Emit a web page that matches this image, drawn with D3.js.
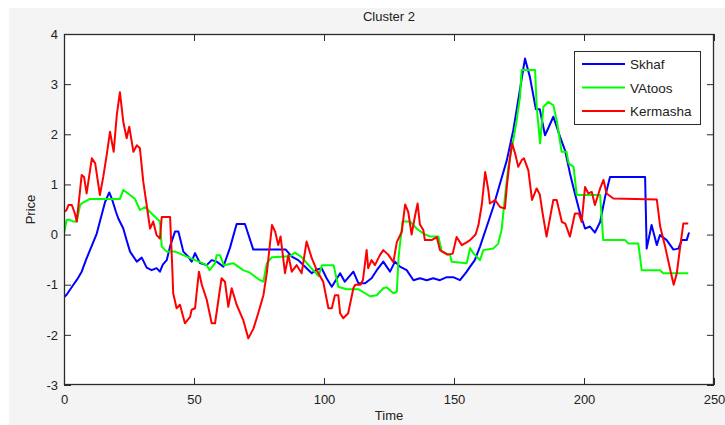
<!DOCTYPE html>
<html lang="en">
<head>
<meta charset="UTF-8" />
<title>Cluster 2</title>
<style>
    body, html {
        margin: 0;
        padding: 0;
        overflow: hidden;
        background: #ffffff;
    }
    svg {
        display: block;
        font-family: "Liberation Sans", Arial, sans-serif;
    }
</style>
</head>
<body>
<svg width="725" height="425"></svg>
<script src="https://d3js.org/d3.v7.min.js"></script>
<script>
    // series values, [time, price]
    const skhaf = [
        [0,-1.25],[1,-1.2],[3.6,-1.0],[5,-0.9],[6.8,-0.74],[8.5,-0.5],[10,-0.31],[12.6,0.02],[13.5,0.2],
        [15.8,0.65],[17.4,0.84],[18.5,0.7],[20,0.45],[20.9,0.32],[22.8,0.12],[24,-0.1],[25.4,-0.34],
        [28,-0.54],[29.9,-0.46],[31.8,-0.66],[33.7,-0.71],[35.6,-0.67],[36.9,-0.74],[38,-0.6],[39.5,-0.51],
        [41,-0.2],[42.7,0.06],[44,0.06],[45.9,-0.34],[47.8,-0.44],[49.1,-0.54],[50.4,-0.37],[52.3,-0.57],
        [54.9,-0.61],[56.8,-0.51],[58.7,-0.54],[61.3,-0.64],[63.8,-0.27],[66.4,0.21],[69.6,0.21],[72.8,-0.3],
        [85.3,-0.3],[87.6,-0.44],[90.1,-0.51],[93.3,-0.67],[95.3,-0.77],[97,-0.7],[99.1,-0.67],[101,-0.87],
        [103,-1.04],[106.2,-0.77],[108,-0.94],[111.3,-0.74],[113.2,-0.97],[115.8,-0.97],[118.3,-0.87],
        [120.3,-0.71],[122.8,-0.54],[125.4,-0.74],[127.3,-0.54],[129.2,-0.64],[131.8,-0.71],[134.4,-0.91],
        [136.9,-0.87],[139.5,-0.91],[142,-0.87],[144.6,-0.91],[147.2,-0.85],[149.7,-0.85],[152.3,-0.91],
        [154.9,-0.74],[156.2,-0.64],[158,-0.51],[160,-0.24],[162.6,0.16],[165.1,0.55],[167.7,1.02],
        [170.3,1.48],[172.8,2.08],[174.7,2.68],[177.3,3.51],[179.2,3.14],[181.5,2.5],[183,2.5],[185,1.98],
        [186.5,2.15],[188.2,2.35],[190.8,1.95],[192.7,1.68],[194.6,1.22],[196.5,0.82],[198.5,0.42],
        [200.4,0.12],[202.3,0.16],[204.2,0.04],[206.2,0.25],[208.1,0.75],[210,1.15],[223.5,1.15],
        [224.1,-0.28],[226,0.19],[228,-0.21],[229.2,-0.01],[231.8,-0.11],[234.4,-0.3],[236.3,-0.28],
        [237.6,-0.11],[239.5,-0.11],[240.4,0.04]
    ];

    const vatoos = [
        [0,0.02],[1,0.29],[2,0.3],[3.6,0.26],[4.9,0.26],[6.2,0.59],[6.8,0.62],[10,0.71],[21.5,0.71],
        [22.8,0.89],[25.4,0.79],[27.3,0.71],[29.2,0.49],[31.2,0.55],[33.7,0.42],[36.9,0.26],[37.6,-0.24],
        [39.5,-0.34],[42.7,-0.34],[45.9,-0.41],[48.5,-0.47],[52.3,-0.55],[54.9,-0.61],[56,-0.71],[58.1,-0.57],
        [58.7,-0.41],[60,-0.41],[61.5,-0.61],[65.1,-0.57],[68.9,-0.71],[71.5,-0.76],[75.4,-0.91],[76.7,-0.94],
        [78,-0.57],[80,-0.45],[83.7,-0.44],[87,-0.43],[88.8,-0.36],[91.4,-0.45],[94.6,-0.64],[97.9,-0.83],
        [99.2,-0.61],[103.7,-0.61],[105.5,-1.04],[108.7,-1.09],[113.2,-1.09],[117.7,-1.23],[120.3,-1.21],
        [122.8,-1.07],[124.1,-1.05],[126.7,-1.17],[128,-1.14],[128.7,-0.44],[130.2,0.26],[133.1,0.26],
        [135.6,0.12],[138.3,0.02],[140.8,-0.04],[144,-0.04],[145.3,-0.34],[148.5,-0.41],[149.1,-0.54],
        [154.9,-0.57],[156.2,-0.27],[157.4,-0.37],[160,-0.51],[161.3,-0.31],[165.1,-0.28],[167,-0.18],
        [168.3,0.09],[169.6,0.75],[170.9,1.35],[172.8,1.88],[174.1,2.28],[175.4,2.75],[176,3.28],[181.2,3.28],
        [181.8,2.55],[183.1,1.82],[184.4,2.55],[186.3,2.65],[188.2,2.58],[189.5,2.28],[191.4,1.65],[193.3,1.65],
        [194.1,1.42],[196,1.35],[197.2,0.79],[206.2,0.79],[207.4,-0.11],[215.8,-0.11],[217.1,-0.18],
        [220.9,-0.18],[222.2,-0.71],[229.2,-0.71],[230.5,-0.77],[240.1,-0.77]
    ];

    const kermasha = [
        [0,0.45],[1,0.49],[1.7,0.59],[3,0.59],[4.2,0.42],[4.9,0.26],[6.8,1.19],[7.7,1.15],[8.7,0.82],
        [10.7,1.52],[12,1.42],[13.8,0.79],[15.1,1.15],[16.4,1.58],[17.7,2.05],[19.1,1.65],[20.3,2.38],
        [21.5,2.84],[22.8,2.25],[24.1,1.92],[25.1,2.15],[26.7,1.65],[28,1.78],[29.2,1.72],[30.5,1.05],
        [31.8,0.59],[33.1,0.12],[34.3,0.26],[35.6,-0.01],[36.9,-0.08],[37.6,0.35],[40.8,0.35],[41.6,-0.6],
        [42,-1.17],[43.3,-1.47],[44.6,-1.4],[46.5,-1.77],[48.5,-1.64],[49.1,-1.5],[50.4,-1.47],[51,-1.17],
        [51.9,-0.74],[53,-1.0],[54.9,-1.3],[56.8,-1.77],[58.1,-1.77],[59.4,-1.3],[60.6,-0.87],[61.9,-0.94],
        [63.2,-1.44],[64.5,-1.07],[66.4,-1.4],[68.9,-1.7],[70.9,-2.07],[72.9,-1.87],[74.7,-1.57],[76.7,-1.21],
        [78,-0.77],[80,0.19],[81.2,0.06],[82.4,-0.21],[83.3,-0.04],[85,-0.77],[86.3,-0.41],[87.6,-0.74],
        [89.5,-0.61],[91.4,-0.77],[93.3,-0.14],[95.3,-0.47],[97.2,-0.71],[99.7,-0.94],[101.7,-1.47],
        [103,-1.47],[104.2,-1.21],[105.5,-1.21],[106.2,-1.57],[107.4,-1.67],[109.3,-1.57],[111.3,-1.07],
        [112,-1.0],[114,-1.0],[115,-0.9],[116.4,-0.31],[117,-0.67],[118.3,-0.51],[119.6,-0.61],[121.5,-0.41],
        [122.8,-0.31],[124.7,-0.4],[126.7,-0.55],[128,-0.15],[129.9,0.05],[131.2,0.6],[132.4,0.45],[133.7,0],
        [135,0.37],[136,0.62],[136.9,0.2],[138.2,0.09],[138.8,-0.11],[141.4,-0.11],[143.4,-0.05],[144.6,-0.31],
        [147.5,-0.4],[149.5,-0.38],[151,-0.05],[153,-0.21],[155,-0.15],[156.2,-0.11],[158.3,0],[159.4,0.19],
        [160.7,0.6],[162,1.25],[163.2,0.89],[163.8,0.62],[165.8,0.69],[167.7,0.55],[169.6,0.52],[170.3,0.95],
        [171.5,1.52],[172.3,1.82],[173.5,1.62],[174.7,1.35],[176,1.48],[176.9,1.52],[178.6,1.28],[180,0.69],
        [181.8,0.92],[183,0.8],[184,0.45],[185.6,-0.04],[188.2,0.69],[189.5,0.69],[191.5,0.25],[192.8,0.22],
        [194.6,-0.04],[196.5,0.42],[198,0.42],[199.1,0.25],[200.4,0.95],[201.7,0.82],[203,0.85],[204.2,0.59],
        [206.2,0.92],[207.5,1.09],[208.7,0.82],[211.3,0.72],[228,0.7],[229.3,0.16],[231.2,-0.24],
        [233.2,-0.71],[234.5,-1.0],[235.7,-0.77],[237,-0.24],[238.2,0.22],[240.1,0.22]
    ];

    const seriesNames = ["Skhaf", "VAtoos", "Kermasha"];
    const seriesColors = ["#0000ff", "#00ff00", "#ff0000"];
    const xTicks = [0, 50, 100, 150, 200, 250];
    const yTicks = [-3, -2, -1, 0, 1, 2, 3, 4];

    const W = 725, H = 425;
    const plot = { left: 64, top: 34, right: 714, bottom: 385 };

    const svg = d3.select("svg");

    // figure background (grey with thin white border top/left like the screenshot)
    svg.append("rect").attr("width", W).attr("height", H).attr("fill", "#ffffff");
    svg.append("rect").attr("x", 9).attr("y", 8).attr("width", W - 9).attr("height", H - 8).attr("fill", "#f4f4f4");

    const x = d3.scaleLinear().domain([0, 250]).range([plot.left, plot.right]);
    const y = d3.scaleLinear().domain([-3, 4]).range([plot.bottom, plot.top]);

    svg.append("rect")
        .attr("x", plot.left).attr("y", plot.top)
        .attr("width", plot.right - plot.left).attr("height", plot.bottom - plot.top)
        .attr("fill", "#ffffff");

    svg.append("clipPath").attr("id", "clip")
        .append("rect")
        .attr("x", plot.left).attr("y", plot.top)
        .attr("width", plot.right - plot.left).attr("height", plot.bottom - plot.top);

    const line = d3.line().x(d => x(d[0])).y(d => y(d[1]));

    const lines = svg.append("g").attr("clip-path", "url(#clip)");
    [skhaf, vatoos, kermasha].forEach((s, i) => {
        lines.append("path")
            .datum(s)
            .attr("fill", "none")
            .attr("stroke", seriesColors[i])
            .attr("stroke-width", 2)
            .attr("stroke-linejoin", "round")
            .attr("d", line);
    });

    // axes, MATLAB style: ticks pointing in, on all four sides
    const tickLen = 7;
    const axisColor = "#2b2b2b";
    const plain = d => String(d);

    svg.append("g")
        .attr("transform", `translate(0,${plot.bottom})`)
        .call(d3.axisBottom(x).tickValues(xTicks).tickFormat(plain).tickSizeInner(-tickLen).tickSizeOuter(0).tickPadding(10))
        .call(g => g.select(".domain").remove());
    svg.append("g")
        .attr("transform", `translate(0,${plot.top})`)
        .call(d3.axisTop(x).tickValues(xTicks).tickSizeInner(-tickLen).tickSizeOuter(0).tickFormat(""))
        .call(g => g.select(".domain").remove());
    svg.append("g")
        .attr("transform", `translate(${plot.left},0)`)
        .call(d3.axisLeft(y).tickValues(yTicks).tickFormat(plain).tickSizeInner(-tickLen).tickSizeOuter(0).tickPadding(6))
        .call(g => g.select(".domain").remove());
    svg.append("g")
        .attr("transform", `translate(${plot.right},0)`)
        .call(d3.axisRight(y).tickValues(yTicks).tickSizeInner(-tickLen).tickSizeOuter(0).tickFormat(""))
        .call(g => g.select(".domain").remove());

    svg.selectAll(".tick line").attr("stroke", axisColor);
    svg.selectAll(".tick text")
        .attr("font-family", "Liberation Sans, Arial, sans-serif")
        .attr("font-size", 13)
        .attr("fill", "#222");

    svg.append("rect")
        .attr("x", plot.left + 0.5).attr("y", plot.top + 0.5)
        .attr("width", plot.right - plot.left - 1).attr("height", plot.bottom - plot.top - 1)
        .attr("fill", "none")
        .attr("stroke", axisColor)
        .attr("stroke-width", 1.3);

    // title and axis labels
    svg.append("text")
        .attr("x", (plot.left + plot.right) / 2).attr("y", 21)
        .attr("text-anchor", "middle")
        .attr("font-size", 13).attr("fill", "#222")
        .text("Cluster 2");

    svg.append("text")
        .attr("x", (plot.left + plot.right) / 2).attr("y", 420)
        .attr("text-anchor", "middle")
        .attr("font-size", 13).attr("fill", "#222")
        .text("Time");

    svg.append("text")
        .attr("transform", `translate(35,${(plot.top + plot.bottom) / 2}) rotate(-90)`)
        .attr("text-anchor", "middle")
        .attr("font-size", 13).attr("fill", "#222")
        .text("Price");

    // legend
    const legend = svg.append("g").attr("transform", "translate(574,51)");
    legend.append("rect")
        .attr("x", 0.5).attr("y", 0.5).attr("width", 126).attr("height", 73)
        .attr("fill", "#ffffff").attr("stroke", axisColor).attr("stroke-width", 1);
    seriesNames.forEach((name, i) => {
        const ly = 13 + i * 23.5;
        legend.append("line")
            .attr("x1", 8).attr("x2", 51).attr("y1", ly).attr("y2", ly)
            .attr("stroke", seriesColors[i]).attr("stroke-width", 2);
        legend.append("text")
            .attr("x", 56).attr("y", ly + 5)
            .attr("font-size", 13.5).attr("fill", "#222")
            .text(name);
    });
</script>
</body>
</html>
